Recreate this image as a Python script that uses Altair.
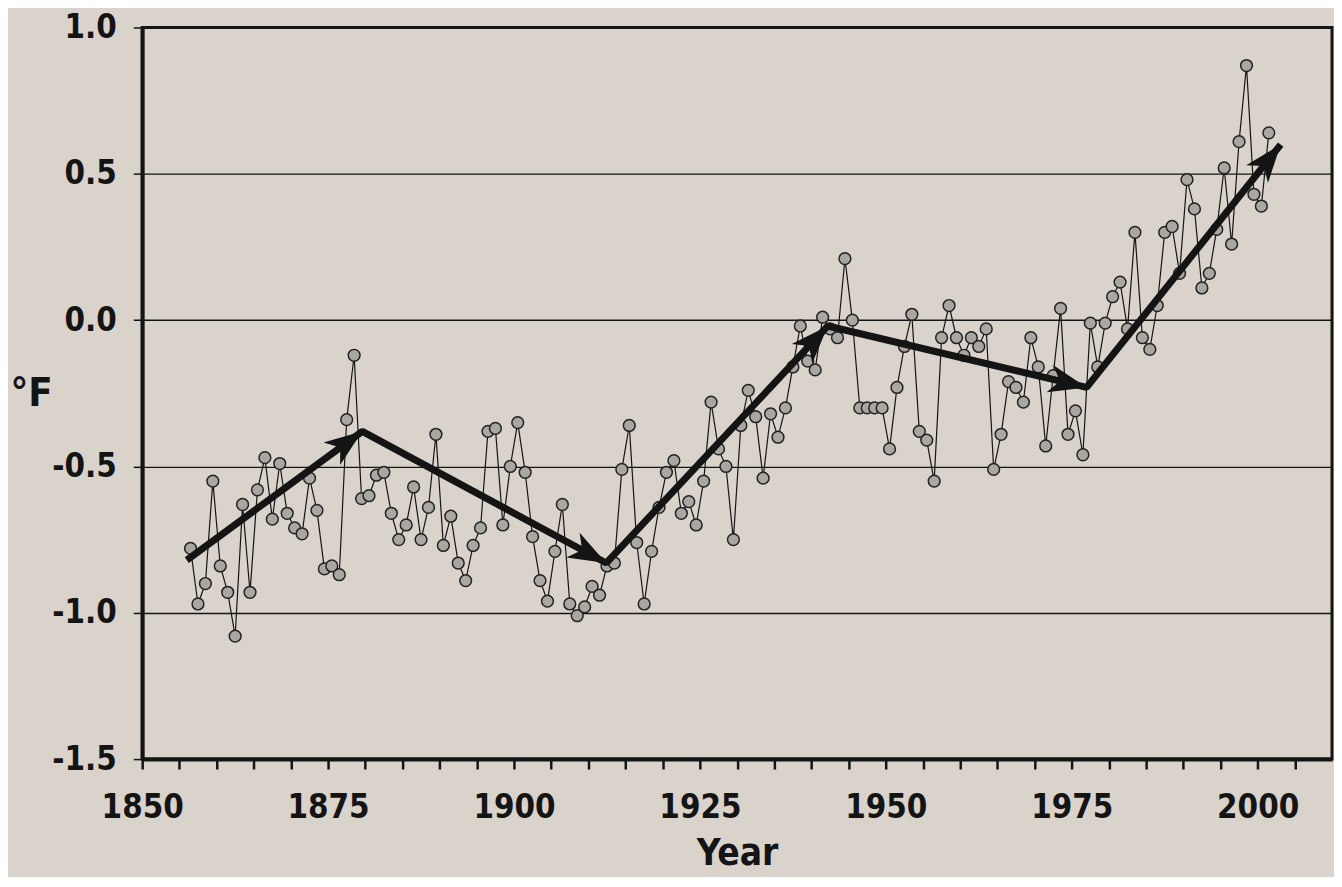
import math
import altair as alt
import pandas as pd

# ---------------- data ----------------
years = list(range(1856, 2002))
anomaly_f = [
    -0.78, -0.97, -0.90, -0.55, -0.84, -0.93, -1.08, -0.63, -0.93, -0.58,   # 1856-1865
    -0.47, -0.68, -0.49, -0.66, -0.71, -0.73, -0.54, -0.65, -0.85, -0.84,   # 1866-1875
    -0.87, -0.34, -0.12, -0.61, -0.60, -0.53, -0.52, -0.66, -0.75, -0.70,   # 1876-1885
    -0.57, -0.75, -0.64, -0.39, -0.77, -0.67, -0.83, -0.89, -0.77, -0.71,   # 1886-1895
    -0.38, -0.37, -0.70, -0.50, -0.35, -0.52, -0.74, -0.89, -0.96, -0.79,   # 1896-1905
    -0.63, -0.97, -1.01, -0.98, -0.91, -0.94, -0.84, -0.83, -0.51, -0.36,   # 1906-1915
    -0.76, -0.97, -0.79, -0.64, -0.52, -0.48, -0.66, -0.62, -0.70, -0.55,   # 1916-1925
    -0.28, -0.44, -0.50, -0.75, -0.36, -0.24, -0.33, -0.54, -0.32, -0.40,   # 1926-1935
    -0.30, -0.16, -0.02, -0.14, -0.17, 0.01, -0.03, -0.06, 0.21, 0.00,      # 1936-1945
    -0.30, -0.30, -0.30, -0.30, -0.44, -0.23, -0.09, 0.02, -0.38, -0.41,    # 1946-1955
    -0.55, -0.06, 0.05, -0.06, -0.12, -0.06, -0.09, -0.03, -0.51, -0.39,    # 1956-1965
    -0.21, -0.23, -0.28, -0.06, -0.16, -0.43, -0.19, 0.04, -0.39, -0.31,    # 1966-1975
    -0.46, -0.01, -0.16, -0.01, 0.08, 0.13, -0.03, 0.30, -0.06, -0.10,      # 1976-1985
    0.05, 0.30, 0.32, 0.16, 0.48, 0.38, 0.11, 0.16, 0.31, 0.52,             # 1986-1995
    0.26, 0.61, 0.87, 0.43, 0.39, 0.64,                                     # 1996-2001
]

# trend arrows (polyline vertices; arrowheads at every vertex after the first)
arrow_years = [1856.0, 1879.6, 1912.4, 1942.2, 1977.0, 2003.1]
arrow_values = [-0.82, -0.38, -0.83, -0.02, -0.23, 0.60]

x_ticks = list(range(1850, 2010, 5))
y_ticks = [-1.5, -1.0, -0.5, 0.0, 0.5, 1.0]

# ---------------- layout / style ----------------
W, H = 1197, 736
X_DOMAIN = [1850, 2010]
Y_DOMAIN = [-1.5, 1.0]
FONT = "DejaVu Sans Condensed, DejaVu Sans, sans-serif"
BG = "#d9d3cc"
INK = "#141414"
ARROW_PATH = "M0,0 L-2,-0.74 L-1.45,0 L-2,0.74 Z"

df = pd.DataFrame({"year": years, "temp": anomaly_f})
arrows = pd.DataFrame({"ay": arrow_years, "av": arrow_values})

# arrowhead rotation derived from the segment directions in screen space
px_per_x = W / (X_DOMAIN[1] - X_DOMAIN[0])
px_per_y = H / (Y_DOMAIN[1] - Y_DOMAIN[0])
head_rows = []
for i in range(1, len(arrow_years)):
    dx = (arrow_years[i] - arrow_years[i - 1]) * px_per_x
    dy = -(arrow_values[i] - arrow_values[i - 1]) * px_per_y
    ang = math.degrees(math.atan2(dy, dx)) % 360
    head_rows.append({"ay": arrow_years[i], "av": arrow_values[i], "ang": ang})
heads = pd.DataFrame(head_rows)

x_scale = alt.Scale(domain=X_DOMAIN, nice=False, zero=False)
y_scale = alt.Scale(domain=Y_DOMAIN, nice=False, zero=False)

x_axis = alt.Axis(
    values=x_ticks,
    labelExpr="datum.value % 25 == 0 ? format(datum.value, 'd') : ''",
    grid=False,
    domainColor=INK, domainWidth=4,
    tickColor=INK, tickWidth=2.5, tickSize=10,
    labelFont=FONT, labelFontSize=33, labelFontWeight="bold", labelColor=INK,
    labelPadding=23, labelFlush=False, labelOverlap=False,
    titleFont=FONT, titleFontSize=37, titleFontWeight="bold", titleColor=INK,
    titleBaseline="alphabetic", titleY=106,
)
y_axis = alt.Axis(
    values=y_ticks,
    labelExpr="replace(format(datum.value, '.1f'), '\u2212', '-')",
    grid=True, gridColor=INK, gridWidth=1.4, gridOpacity=1,
    domainColor=INK, domainWidth=4,
    tickColor=INK, tickWidth=1.5, tickSize=9,
    labelFont=FONT, labelFontSize=33, labelFontWeight="bold", labelColor=INK,
    labelPadding=17, labelFlush=False, labelOverlap=False,
    titleFont=FONT, titleFontSize=40, titleFontWeight="bold", titleColor=INK,
    titleAngle=0, titleAlign="left", titleBaseline="middle",
    titleX=-133, titleY=H / 2,
)


def xenc(field):
    return alt.X(field, scale=x_scale, axis=x_axis, title="Year")


def yenc(field):
    return alt.Y(field, scale=y_scale, axis=y_axis, title="°F")


base = alt.Chart(df).transform_calculate(xpos="datum.year + 0.5")

series_line = base.mark_line(color=INK, strokeWidth=1.2).encode(
    x=xenc("xpos:Q"), y=yenc("temp:Q"),
)

series_pts = base.mark_circle(
    size=140, fill="#aaa6a2", stroke="#222222", strokeWidth=1.5, opacity=1
).encode(
    x=xenc("xpos:Q"), y=yenc("temp:Q"),
)

arrow_line = alt.Chart(arrows).mark_line(
    color=INK, strokeWidth=7, strokeJoin="bevel", strokeCap="butt"
).encode(
    x=xenc("ay:Q"), y=yenc("av:Q"),
)

arrow_heads = alt.Chart(heads).mark_point(
    shape=ARROW_PATH, filled=True, color=INK, size=1444, opacity=1, strokeWidth=0
).encode(
    x=xenc("ay:Q"), y=yenc("av:Q"),
    angle=alt.Angle("ang:Q", scale=None),
)

chart = (
    alt.layer(series_line, series_pts, arrow_line, arrow_heads)
    .properties(
        width=W, height=H,
        autosize=alt.AutoSizeParams(type="none"),
        padding={"left": 135, "top": 17, "right": 2, "bottom": 116},
        background=BG,
    )
    .configure_view(stroke=INK, strokeWidth=3)
)

chart.save("out.html", embed_options={"renderer": "svg", "actions": False})
